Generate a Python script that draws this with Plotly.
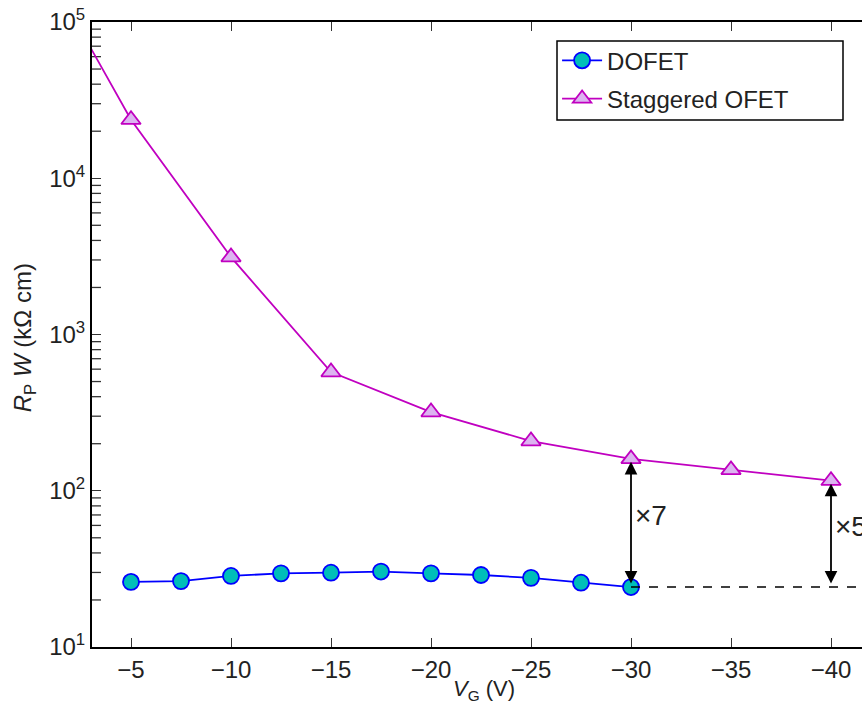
import numpy as np
import plotly.graph_objects as go

# Gate voltage (V) and width-normalised contact resistance (kOhm cm)
vg_dofet = [-5, -7.5, -10, -12.5, -15, -17.5, -20, -22.5, -25, -27.5, -30]
rw_dofet = [26.1, 26.4, 28.5, 29.6, 29.9, 30.4, 29.6, 28.9, 27.7, 25.8, 24.2]

vg_stag = [-2.5, -5, -10, -15, -20, -25, -30, -35, -40]
rw_stag = [88000, 23700, 3130, 575, 319, 208, 160, 136, 116]

ref_level = rw_dofet[-1]          # DOFET value at -30 V, carried as a dashed reference
ratio_labels = ["×7", "×5"]
ratio_x = [-30, -40]
ratio_top = [rw_stag[6], rw_stag[8]]

y_tickvals = [10, 100, 1000, 10000, 100000]
y_ticktext = ["10<sup>1</sup>", "10<sup>2</sup>", "10<sup>3</sup>", "10<sup>4</sup>", "10<sup>5</sup>"]
y_minorvals = [k * 10 ** n for n in range(1, 5) for k in range(2, 10)]
x_tickvals = [-5, -10, -15, -20, -25, -30, -35, -40]
x_range = [-3.05, -41.55]

FONT = "Liberation Sans, Arial, Helvetica, sans-serif"

fig = go.Figure()

# minor log ticks drawn as short horizontal marks just inside the left spine
fig.add_trace(go.Scatter(
    x=[x_range[0] - 0.1] * len(y_minorvals), y=y_minorvals, mode="markers",
    marker=dict(symbol="line-ew-open", size=10, color="#333333",
                line=dict(color="#333333", width=1.3)),
    showlegend=False, hoverinfo="skip", cliponaxis=True,
))

fig.add_trace(go.Scatter(
    x=vg_dofet, y=rw_dofet, mode="lines+markers", name="DOFET",
    legendgroup="a",
    line=dict(color="#0000ff", width=1.8),
    marker=dict(symbol="circle", size=16, color="rgb(0,190,185)",
                line=dict(color="#0000ff", width=1.8)),
))
fig.add_trace(go.Scatter(
    x=vg_stag, y=rw_stag, mode="lines+markers", name="Staggered OFET",
    legendgroup="b",
    line=dict(color="#c000c0", width=1.8),
    marker=dict(symbol="triangle-up", size=17, color="rgb(220,180,240)",
                line=dict(color="#c000c0", width=1.8)),
))
fig.add_trace(go.Scatter(
    x=[-30, -41.6], y=[ref_level, ref_level], mode="lines", showlegend=False,
    line=dict(color="black", width=1.5, dash="dash"), hoverinfo="skip",
))

annotations = []
for xv, top, lab in zip(ratio_x, ratio_top, ratio_labels):
    annotations.append(dict(
        x=xv, y=np.log10(top), ax=xv, ay=np.log10(ref_level),
        xref="x", yref="y", axref="x", ayref="y",
        showarrow=True, arrowhead=2, startarrowhead=2, arrowside="end+start",
        arrowsize=1.4, arrowwidth=1.8, arrowcolor="black",
        standoff=3, startstandoff=2, text="",
    ))
    annotations.append(dict(
        x=xv, y=np.log10(np.sqrt(top * ref_level)) + 0.05, xref="x", yref="y",
        text=lab, showarrow=False, xanchor="left", xshift=2,
        font=dict(family=FONT, size=28, color="#222222"),
    ))

annotations.append(dict(
    x=0, y=0.494, xref="paper", yref="paper", xshift=-68,
    text="<i>R</i><sub>P</sub> <i>W</i> (kΩ cm)", textangle=-90,
    showarrow=False, xanchor="center", yanchor="middle",
    font=dict(family=FONT, size=24, color="#222222"),
))
annotations.append(dict(
    x=0.509, y=-0.069, xref="paper", yref="paper",
    text="<i>V</i><sub>G</sub> (V)", showarrow=False,
    xanchor="center", yanchor="middle",
    font=dict(family=FONT, size=22, color="#222222"),
))

# legend frame
px_w, px_h, ml, mt = 770, 625, 92, 22
legend_box = dict(
    type="rect", xref="paper", yref="paper",
    x0=(557 - ml) / px_w, x1=(843 - ml) / px_w,
    y0=1 - (120 - mt) / px_h, y1=1 - (41 - mt) / px_h,
    line=dict(color="black", width=1.5), fillcolor="rgba(0,0,0,0)", layer="above",
)

fig.update_layout(
    width=862, height=711,
    margin=dict(l=ml, r=0, t=mt, b=64),
    paper_bgcolor="white", plot_bgcolor="white",
    font=dict(family=FONT, size=22, color="#222222"),
    showlegend=True,
    legend=dict(
        x=0.604, y=0.974, xanchor="left", yanchor="top",
        borderwidth=0, bgcolor="rgba(255,255,255,0)",
        font=dict(family=FONT, size=24, color="#222222"),
        itemwidth=40, tracegroupgap=4,
    ),
    shapes=[legend_box],
    annotations=annotations,
)

fig.update_xaxes(
    range=x_range, tickvals=x_tickvals,
    ticks="inside", ticklen=9, tickwidth=1.3, tickcolor="#333333",
    showline=True, linecolor="black", linewidth=2, mirror="ticks",
    showgrid=False, zeroline=False,
    tickfont=dict(family=FONT, size=24, color="#222222"),
)
fig.update_yaxes(
    type="log", range=[1, 5], tickvals=y_tickvals, ticktext=y_ticktext,
    ticks="inside", ticklen=9, tickwidth=1.3, tickcolor="#333333",
    showline=True, linecolor="black", linewidth=2, mirror=False,
    showgrid=False, zeroline=False,
    tickfont=dict(family=FONT, size=24, color="#222222"),
)

fig.write_html("out.html")
